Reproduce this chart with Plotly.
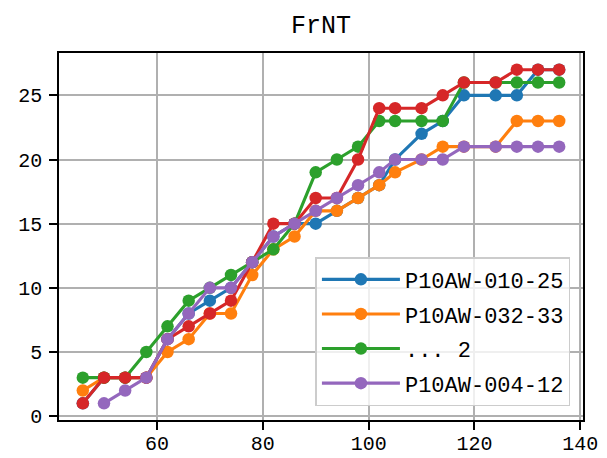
import plotly.graph_objects as go

x_vals = [46, 50, 54, 58, 62, 66, 70, 74, 78, 82, 86, 90, 94, 98, 102, 105, 110, 114, 118, 124, 128, 132, 136]

s_blue = [1, 3, 3, 3, 6, 8, 9, 10, 12, 14, 15, 15, 16, 17, 18, 20, 22, 23, 25, 25, 25, 27, 27]
s_orange = [2, 3, 3, 3, 5, 6, 8, 8, 11, 13, 14, 16, 16, 17, 18, 19, 20, 21, 21, 21, 23, 23, 23]
s_green = [3, 3, 3, 5, 7, 9, 10, 11, 12, 13, 15, 19, 20, 21, 23, 23, 23, 23, 26, 26, 26, 26, 26]
s_red = [1, 3, 3, 3, 6, 7, 8, 9, 12, 15, 15, 17, 17, 20, 24, 24, 24, 25, 26, 26, 27, 27, 27]
s_purple = [None, 1, 2, 3, 6, 8, 10, 10, 12, 14, 15, 16, 17, 18, 19, 20, 20, 20, 21, 21, 21, 21, 21]

names = ["P10AW-010-25", "P10AW-032-33", "... 2", "", "P10AW-004-12"]
colors = ["#1f77b4", "#ff7f0e", "#2ca02c", "#d62728", "#9467bd"]
series = [s_blue, s_orange, s_green, s_red, s_purple]
show = [True, True, True, False, True]

title_text = "FrNT"
x_ticks = [60, 80, 100, 120, 140]
y_ticks = [0, 5, 10, 15, 20, 25]

FONT = "Liberation Mono, DejaVu Sans Mono, monospace"

fig = go.Figure()
for i, (nm, col, ys, sh) in enumerate(zip(names, colors, series, show)):
    fig.add_trace(go.Scatter(
        x=x_vals, y=ys, mode="lines+markers", name=nm,
        line=dict(color=col, width=3.1),
        marker=dict(color=col, size=12.5, line=dict(width=0)),
        showlegend=sh, legendgroup=f"g{i}",
    ))

axis_common = dict(
    showline=True, linecolor="black", linewidth=1.7, mirror=True,
    ticks="outside", ticklen=8, tickwidth=1.7, tickcolor="black",
    showgrid=True, gridcolor="#b0b0b0", gridwidth=1.7,
    zeroline=False, automargin=False,
    tickfont=dict(family=FONT, size=20, color="black"),
)

fig.update_layout(
    width=607, height=458,
    margin=dict(l=59, r=24, t=53, b=38),
    paper_bgcolor="white", plot_bgcolor="white",
    title=dict(text=title_text, xref="paper", x=0.5, xanchor="center",
               yref="container", y=0.948, yanchor="middle",
               font=dict(family=FONT, size=25, color="black")),
    xaxis=dict(range=[41.5, 140.5], tickvals=x_ticks, ticklabelstandoff=-4, **axis_common),
    yaxis=dict(range=[-0.3, 28.3], tickvals=y_ticks, ticklabelstandoff=3, **axis_common),
    legend=dict(
        x=0.976, xanchor="right", y=0.038, yanchor="bottom",
        bgcolor="rgba(255,255,255,0.8)", bordercolor="#cccccc", borderwidth=1.5,
        font=dict(family=FONT, size=22, color="black"),
        tracegroupgap=3, itemwidth=78,
    ),
    showlegend=True,
)

fig.write_html(
    "out.html",
    config={"displayModeBar": False},
    post_script="document.body.style.margin='0px';document.body.style.overflow='hidden';",
)
